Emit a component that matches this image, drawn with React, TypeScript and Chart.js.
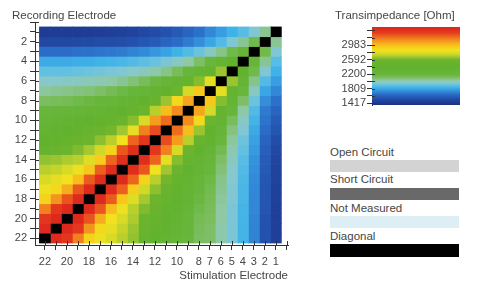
import React, { useEffect, useRef } from 'react';
import { Chart, registerables } from 'chart.js';

Chart.register(...registerables);

// ---------- data ----------
const STIM_ELECTRODES = [1, 2, 3, 4, 5, 6, 7, 8, 9, 10, 11, 12, 13, 14, 15, 16, 17, 18, 19, 20, 21, 22];
const REC_ELECTRODES = [1, 2, 3, 4, 5, 6, 7, 8, 9, 10, 11, 12, 13, 14, 15, 16, 17, 18, 19, 20, 21, 22];
const X_TICK_LABELS = [22, 20, 18, 16, 14, 12, 10, 8, 7, 6, 5, 4, 3, 2, 1];
const Y_TICK_LABELS = [2, 4, 6, 8, 10, 12, 14, 16, 18, 20, 22];
const CB_TICK_VALUES = [1417, 1612.75, 1808.5, 2004.25, 2200, 2395.75, 2591.5, 2787.25, 2983, 3178.75, 3374.5];
const CB_TICK_LABELS = ['1417', '', '1809', '', '2200', '', '2592', '', '2983', '', ''];
const CB_MIN = 1363;
const CB_MAX = 3469;

// transimpedance [Ohm], row = recording electrode, columns = stimulation electrode 1..22 (null = diagonal)
const R01 = [null, 2050, 1950, 1880, 1830, 1780, 1720, 1660, 1620, 1580, 1550, 1520, 1500, 1480, 1470, 1460, 1450, 1450, 1440, 1440, 1440, 1440];
const R02 = [2050, null, 2150, 2050, 1950, 1870, 1800, 1740, 1690, 1650, 1620, 1590, 1570, 1550, 1530, 1520, 1520, 1510, 1510, 1500, 1500, 1500];
const R03 = [1950, 2150, null, 2250, 2150, 2060, 1980, 1920, 1870, 1830, 1790, 1760, 1730, 1710, 1690, 1680, 1670, 1660, 1660, 1650, 1650, 1650];
const R04 = [1880, 2050, 2250, null, 2400, 2280, 2180, 2100, 2030, 1980, 1940, 1910, 1890, 1870, 1850, 1840, 1830, 1820, 1820, 1810, 1810, 1810];
const R05 = [1830, 1950, 2150, 2400, null, 2650, 2450, 2300, 2200, 2120, 2060, 2020, 1990, 1970, 1950, 1940, 1930, 1920, 1910, 1900, 1900, 1900];
const R06 = [1780, 1870, 2060, 2280, 2650, null, 2800, 2620, 2450, 2330, 2240, 2170, 2120, 2080, 2050, 2030, 2010, 2000, 1990, 1980, 1970, 1970];
const R07 = [1720, 1800, 1980, 2180, 2450, 2800, null, 2950, 2750, 2560, 2420, 2330, 2260, 2200, 2160, 2130, 2100, 2080, 2070, 2060, 2050, 2040];
const R08 = [1660, 1740, 1920, 2100, 2300, 2620, 2950, null, 3050, 2880, 2650, 2500, 2400, 2330, 2270, 2230, 2200, 2170, 2150, 2130, 2120, 2110];
const R09 = [1620, 1690, 1870, 2030, 2200, 2450, 2750, 3050, null, 3120, 2980, 2700, 2560, 2460, 2390, 2340, 2300, 2270, 2240, 2220, 2200, 2180];
const R10 = [1590, 1670, 1840, 1980, 2120, 2330, 2560, 2880, 3120, null, 3200, 3080, 2760, 2620, 2540, 2480, 2430, 2390, 2350, 2310, 2280, 2260];
const R11 = [1560, 1650, 1810, 1950, 2070, 2250, 2420, 2650, 2980, 3200, null, 3280, 3150, 2800, 2660, 2590, 2530, 2480, 2430, 2390, 2350, 2320];
const R12 = [1530, 1620, 1790, 1920, 2040, 2190, 2350, 2500, 2700, 3080, 3280, null, 3350, 3220, 2840, 2700, 2630, 2580, 2530, 2480, 2440, 2400];
const R13 = [1510, 1600, 1770, 1900, 2010, 2140, 2280, 2400, 2560, 2760, 3150, 3350, null, 3400, 3250, 2900, 2740, 2670, 2610, 2560, 2520, 2480];
const R14 = [1490, 1590, 1750, 1880, 1990, 2100, 2220, 2330, 2460, 2620, 2800, 3220, 3400, null, 3400, 3220, 2930, 2780, 2700, 2680, 2650, 2640];
const R15 = [1480, 1580, 1740, 1870, 1970, 2080, 2180, 2270, 2390, 2540, 2660, 2840, 3250, 3400, null, 3420, 3230, 2950, 2820, 2760, 2720, 2700];
const R16 = [1480, 1570, 1730, 1860, 1960, 2060, 2160, 2230, 2340, 2480, 2590, 2700, 2900, 3220, 3420, null, 3420, 3240, 2980, 2850, 2800, 2760];
const R17 = [1470, 1560, 1720, 1850, 1950, 2050, 2140, 2200, 2300, 2430, 2530, 2630, 2740, 2930, 3230, 3420, null, 3430, 3250, 3030, 2880, 2820];
const R18 = [1470, 1560, 1720, 1850, 1950, 2040, 2130, 2170, 2270, 2390, 2480, 2580, 2670, 2780, 2950, 3240, 3430, null, 3430, 3260, 3100, 2900];
const R19 = [1460, 1560, 1720, 1840, 1940, 2030, 2120, 2150, 2240, 2350, 2430, 2530, 2610, 2700, 2820, 2980, 3250, 3430, null, 3440, 3340, 3150];
const R20 = [1460, 1550, 1710, 1840, 1940, 2030, 2110, 2130, 2220, 2310, 2390, 2480, 2560, 2680, 2760, 2850, 3030, 3260, 3440, null, 3440, 3350];
const R21 = [1460, 1550, 1710, 1840, 1940, 2020, 2100, 2120, 2200, 2280, 2350, 2440, 2520, 2650, 2720, 2800, 2880, 3100, 3340, 3440, null, 3420];
const R22 = [1460, 1550, 1710, 1840, 1940, 2020, 2100, 2110, 2180, 2260, 2320, 2400, 2480, 2640, 2700, 2760, 2820, 2900, 3150, 3350, 3420, null];
const TRANSIMPEDANCE_ROWS = [R01, R02, R03, R04, R05, R06, R07, R08, R09, R10, R11, R12, R13, R14, R15, R16, R17, R18, R19, R20, R21, R22];

// colour map (value -> colour)
const CMAP_VALUES = [1350, 1450, 1550, 1650, 1750, 1830, 1900, 1960, 2030, 2100, 2180, 2400, 2580, 2660, 2740, 2840, 2960, 3080, 3200, 3320, 3470];
const CMAP_COLORS = ['#1b3282', '#1f3d96', '#2352ae', '#2a6cc8', '#3592dc', '#3fb2e8', '#62c0e2', '#86c8d0', '#8ec8a4', '#7ebe64', '#68b63c', '#62b22e', '#6cb42e', '#a0c630', '#d2d828', '#f2e21e', '#f8c41c', '#f49c1e', '#ee6c1e', '#e43a1e', '#dc241c'];

const LEGEND_LABELS = ['Open Circuit', 'Short Circuit', 'Not Measured', 'Diagonal'];
const LEGEND_COLORS = ['#d3d3d3', '#696969', '#ddeef4', '#000000'];
const DIAGONAL_COLOR = '#000000';

const FONT = '"Liberation Sans", Arial, sans-serif';
const TEXT_COLOR = '#464646';
const LINE_COLOR = '#333333';

function hexToRgb(h: string) {
  const n = parseInt(h.slice(1), 16);
  return [(n >> 16) & 255, (n >> 8) & 255, n & 255];
}

function colorFor(v: number | null) {
  if (v === null || v === undefined) return DIAGONAL_COLOR;
  if (v <= CMAP_VALUES[0]) return CMAP_COLORS[0];
  for (let i = 1; i < CMAP_VALUES.length; i++) {
    if (v <= CMAP_VALUES[i]) {
      const t = (v - CMAP_VALUES[i - 1]) / (CMAP_VALUES[i] - CMAP_VALUES[i - 1]);
      const a = hexToRgb(CMAP_COLORS[i - 1]);
      const b = hexToRgb(CMAP_COLORS[i]);
      const c = a.map((x, k) => Math.round(x + (b[k] - x) * t));
      return `rgb(${c[0]},${c[1]},${c[2]})`;
    }
  }
  return CMAP_COLORS[CMAP_COLORS.length - 1];
}

function makeInnerTicks(scaleIds: string[], length: number) {
  return {
    id: 'innerTicks',
    afterDraw(chart: any) {
      const ctx = chart.ctx;
      ctx.save();
      ctx.strokeStyle = LINE_COLOR;
      ctx.lineWidth = 1;
      for (const id of scaleIds) {
        const s = chart.scales[id];
        s.ticks.forEach((_t: any, i: number) => {
          const p = Math.round(s.getPixelForTick(i)) + 0.5;
          ctx.beginPath();
          if (s.isHorizontal()) {
            ctx.moveTo(p, s.top);
            ctx.lineTo(p, s.top - length);
          } else {
            ctx.moveTo(s.right, p);
            ctx.lineTo(s.right + length, p);
          }
          ctx.stroke();
        });
      }
      ctx.restore();
    },
  };
}

const TICK_POSITIONS = Array.from({ length: 23 }, (_, i) => i);

function Heatmap() {
  const ref = useRef<HTMLCanvasElement>(null);
  useEffect(() => {
    const datasets = REC_ELECTRODES.map((r, ri) => ({
      label: 'Recording ' + r,
      data: STIM_ELECTRODES.map((c) => ({ x: c, y: [r - 0.5, r + 0.5] })),
      backgroundColor: STIM_ELECTRODES.map((_c, ci) => colorFor(TRANSIMPEDANCE_ROWS[ri][ci])),
      borderWidth: 0,
      grouped: false,
      barPercentage: 1,
      categoryPercentage: 1,
    }));
    const chart = new Chart(ref.current as HTMLCanvasElement, {
      type: 'bar',
      data: { datasets } as any,
      options: {
        responsive: false,
        animation: false,
        events: [],
        layout: { padding: { left: 0, top: 22, right: 12, bottom: 0 } },
        plugins: { legend: { display: false }, tooltip: { enabled: false } },
        scales: {
          x: {
            type: 'linear',
            reverse: true,
            min: -0.1,
            max: 22.9,
            offset: false,
            position: 'bottom',
            afterBuildTicks: (s: any) => { s.ticks = TICK_POSITIONS.map((v) => ({ value: v })); },
            afterFit: (s: any) => { s.height = 44; },
            ticks: {
              autoSkip: false,
              maxRotation: 0,
              minRotation: 0,
              padding: 5,
              color: TEXT_COLOR,
              font: { family: FONT, size: 11 },
              callback: (v: any) => (X_TICK_LABELS.includes(Number(v)) ? String(v) : ''),
            },
            grid: { offset: false, drawOnChartArea: false, drawTicks: true, tickLength: 5, color: LINE_COLOR },
            border: { display: true, color: LINE_COLOR },
          },
          y: {
            type: 'linear',
            reverse: true,
            min: 0,
            max: 22.7,
            position: 'left',
            afterBuildTicks: (s: any) => { s.ticks = TICK_POSITIONS.map((v) => ({ value: v })); },
            afterFit: (s: any) => { s.width = 35; },
            ticks: {
              autoSkip: false,
              padding: 3,
              color: TEXT_COLOR,
              font: { family: FONT, size: 11 },
              callback: (v: any) => (Y_TICK_LABELS.includes(Number(v)) ? String(v) : ''),
            },
            grid: { drawOnChartArea: false, drawTicks: true, tickLength: 5, color: LINE_COLOR },
            border: { display: true, color: LINE_COLOR },
          },
        },
      } as any,
      plugins: [makeInnerTicks(['x', 'y'], 4)],
    });
    return () => chart.destroy();
  }, []);
  return <canvas ref={ref} width={300} height={289} style={{ position: 'absolute', left: 0, top: 0 }} />;
}

function ColorBar() {
  const ref = useRef<HTMLCanvasElement>(null);
  useEffect(() => {
    const chart = new Chart(ref.current as HTMLCanvasElement, {
      type: 'bar',
      data: {
        labels: ['Transimpedance'],
        datasets: [
          {
            data: [[CB_MIN, CB_MAX]],
            borderWidth: 0,
            barPercentage: 1,
            categoryPercentage: 1,
            backgroundColor: (ctx: any) => {
              const ch = ctx.chart;
              const ys = ch.scales.y;
              if (!ch.chartArea || !ys) return '#5cb030';
              const y0 = ys.getPixelForValue(CB_MIN);
              const y1 = ys.getPixelForValue(CB_MAX);
              const g = ch.ctx.createLinearGradient(0, y0, 0, y1);
              CMAP_VALUES.forEach((v, i) => {
                const off = Math.min(1, Math.max(0, (v - CB_MIN) / (CB_MAX - CB_MIN)));
                g.addColorStop(off, CMAP_COLORS[i]);
              });
              return g;
            },
          },
        ],
      } as any,
      options: {
        responsive: false,
        animation: false,
        events: [],
        layout: { padding: { left: 0, top: 27, right: 5, bottom: 10 } },
        plugins: { legend: { display: false }, tooltip: { enabled: false } },
        scales: {
          x: { display: false, offset: true },
          y: {
            type: 'linear',
            position: 'left',
            min: CB_MIN,
            max: CB_MAX,
            afterBuildTicks: (s: any) => { s.ticks = CB_TICK_VALUES.map((v) => ({ value: v })); },
            afterFit: (s: any) => { s.width = 52; },
            ticks: {
              autoSkip: false,
              padding: 1,
              color: TEXT_COLOR,
              font: { family: FONT, size: 11 },
              callback: (_v: any, i: number) => CB_TICK_LABELS[i],
            },
            grid: { drawOnChartArea: false, drawTicks: true, tickLength: 5, color: LINE_COLOR },
            border: { display: true, color: LINE_COLOR },
          },
        },
      } as any,
      plugins: [makeInnerTicks(['y'], 3)],
    });
    return () => chart.destroy();
  }, []);
  return <canvas ref={ref} width={145} height={115} style={{ position: 'absolute', left: 320, top: 0 }} />;
}

const textStyle: React.CSSProperties = {
  position: 'absolute',
  fontFamily: FONT,
  fontSize: 11.5,
  lineHeight: '14px',
  color: TEXT_COLOR,
  whiteSpace: 'nowrap',
};

const LEGEND_TEXT_TOPS = [145, 172, 201, 229];
const LEGEND_BAR_TOPS = [160, 188, 216, 244];

export default function App() {
  return (
    <div style={{ position: 'absolute', left: 0, top: 0, width: 477, height: 289, background: '#fff', overflow: 'hidden' }}>
      <Heatmap />
      <div style={{ ...textStyle, left: 12, top: 8 }}>Recording Electrode</div>
      <div style={{ ...textStyle, right: 189, top: 268, textAlign: 'right' }}>Stimulation Electrode</div>
      <ColorBar />
      <div style={{ ...textStyle, left: 335, top: 8 }}>Transimpedance [Ohm]</div>
      {LEGEND_LABELS.map((lab, i) => (
        <React.Fragment key={lab}>
          <div style={{ ...textStyle, left: 330, top: LEGEND_TEXT_TOPS[i] }}>{lab}</div>
          <div
            style={{
              position: 'absolute',
              left: 330,
              top: LEGEND_BAR_TOPS[i],
              width: 129,
              height: i === 3 ? 13 : 12,
              background: LEGEND_COLORS[i],
            }}
          />
        </React.Fragment>
      ))}
    </div>
  );
}
